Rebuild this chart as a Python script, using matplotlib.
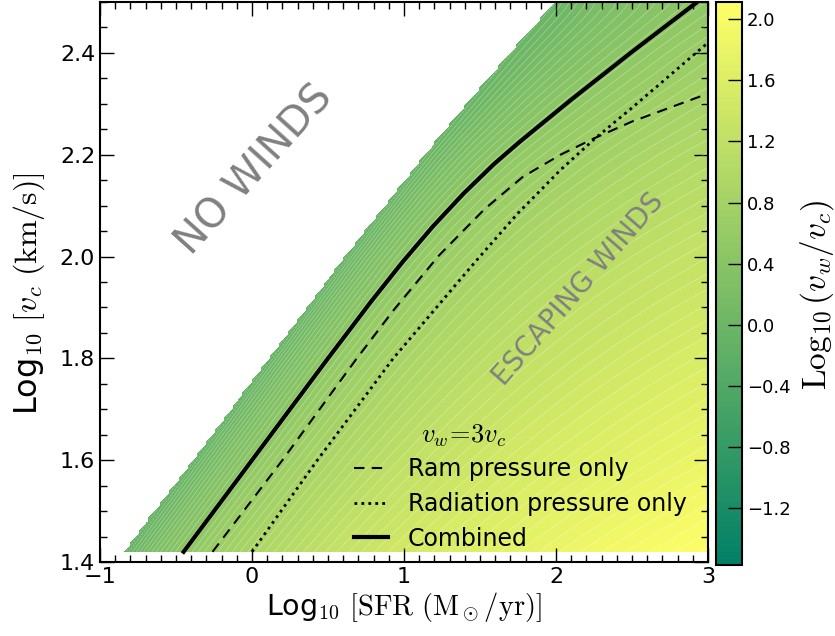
import numpy as np
import matplotlib
matplotlib.use('Agg')
import matplotlib.pyplot as plt
from matplotlib.ticker import MultipleLocator

plt.rcParams['mathtext.fontset'] = 'cm'
plt.rcParams['font.family'] = 'DejaVu Sans'

# no-wind boundary (log10 SFR at each log10 vc) and log10(vw/vc) along it / at SFR=10^3
y_nodes = [1.42, 1.6, 1.8, 2.0, 2.2, 2.4, 2.5]
x_edge = [-0.85, -0.39, 0.11, 0.61, 1.13, 1.69, 1.99]
z_edge = [-0.12, -0.10, -0.10, -0.10, -0.08, -0.06, -0.05]
z_right = [2.08, 1.82, 1.55, 1.28, 1.00, 0.68, 0.50]

# v_w = 3 v_c curves
comb_x = [-0.45, 0.0, 0.50, 0.79, 0.99, 1.19, 1.39, 1.59, 1.76, 2.10, 2.50, 2.93]
comb_y = [1.42, 1.6, 1.8, 1.914, 1.989, 2.059, 2.123, 2.181, 2.225, 2.308, 2.402, 2.50]
ram_x = [-0.26, 0.20, 0.69, 0.93, 1.23, 1.53, 1.78, 2.03, 2.25, 2.50, 3.0]
ram_y = [1.42, 1.6, 1.8, 1.894, 2.002, 2.093, 2.156, 2.200, 2.232, 2.265, 2.32]
rad_x = [0.0, 0.43, 0.93, 1.47, 1.75, 2.03, 2.25, 2.50, 3.0]
rad_y = [1.42, 1.6, 1.8, 1.99, 2.085, 2.170, 2.230, 2.292, 2.42]

zmin, zmax = -1.57, 2.11
z3 = np.log10(3)

# ---- log10(vw/vc) over the (SFR, vc) plane -----------------------------------
sfr = np.linspace(-1.0, 3.0, 201)
vc = np.linspace(1.42, 2.5, 181)

# each row: z = a + b*log10(d + e), d = distance from the no-wind edge,
# pinned to z_edge at the edge, log10(3) on the combined curve, z_right at SFR=10^3
xb = np.interp(vc, y_nodes, x_edge)
ze = np.interp(vc, y_nodes, z_edge)
zr = np.interp(vc, y_nodes, z_right)
dc = np.interp(vc, comb_y, comb_x) - xb
D = 3.0 - xb
target = (zr - z3) / (z3 - ze)
lo, hi = np.full_like(vc, -5.0), np.full_like(vc, 3.0)
for _ in range(80):
    mid = 0.5 * (lo + hi)
    e = 10 ** mid
    f = np.log10((D + e) / (dc + e)) / np.log10((dc + e) / e)
    lo = np.where(f < target, mid, lo)
    hi = np.where(f < target, hi, mid)
e = 10 ** (0.5 * (lo + hi))
b = (z3 - ze) / np.log10((dc + e) / e)
a = ze - b * np.log10(e)

X, Y = np.meshgrid(sfr, vc)
d = X - xb[:, None]
with np.errstate(invalid='ignore'):
    Z = a[:, None] + b[:, None] * np.log10(d + e[:, None])
Z = np.ma.masked_where(d <= 0, np.clip(Z, zmin, zmax))

fig = plt.figure(figsize=(8.35, 6.36), dpi=100)
ax = fig.add_axes([0.1198, 0.1164, 0.728, 0.8805])
cax = fig.add_axes([0.8575, 0.1116, 0.0311, 0.885])

levels = np.linspace(zmin, zmax, 90)
cf = ax.contourf(X, Y, Z, levels=levels, cmap='summer')
ax.contour(X, Y, Z, levels=levels, colors='white', linewidths=0.5, alpha=0.35)

ax.plot(ram_x, ram_y, color='k', lw=1.5, dashes=(5, 3.5), label='Ram pressure only')
ax.plot(rad_x, rad_y, color='k', lw=2.0, dashes=(1, 1.5), label='Radiation pressure only')
ax.plot(comb_x, comb_y, color='k', lw=3.0, label='Combined')

ax.set_xlim(-1, 3)
ax.set_ylim(1.4, 2.5)
ax.xaxis.set_major_locator(MultipleLocator(1))
ax.xaxis.set_minor_locator(MultipleLocator(0.1))
ax.yaxis.set_major_locator(MultipleLocator(0.2))
ax.yaxis.set_minor_locator(MultipleLocator(0.05))
ax.tick_params(which='both', direction='in', top=True, right=True, width=1, labelsize=16)
ax.tick_params(which='major', length=10)
ax.tick_params(which='minor', length=5)
for s in ax.spines.values():
    s.set_linewidth(1.5)

ax.set_xlabel(r'Log$_{10}$ $[\rm SFR\ (M_\odot/yr)]$', fontsize=20.5, labelpad=2)
ax.set_ylabel(r'Log$_{10}$ $[v_c\ \rm (km/s)]$', fontsize=23)
ax.yaxis.set_label_coords(-0.088, 0.48)

ax.text(0.02, 2.17, 'NO WINDS', color='gray', fontsize=29, rotation=48,
        ha='center', va='center')
ax.text(2.15, 1.935, 'ESCAPING WINDS', color='gray', fontsize=20, rotation=49,
        ha='center', va='center')

leg = ax.legend(loc='lower left', bbox_to_anchor=(0.396, -0.003), frameon=False,
                fontsize=17, handlelength=1.45, handletextpad=0.85, labelspacing=0.46,
                borderpad=0.05)
ax.text(0.528, 0.225, r'$v_w\!=\!3v_c$', transform=ax.transAxes, fontsize=19,
        ha='left', va='center')

cb = fig.colorbar(cf, cax=cax, ticks=np.arange(-1.2, 2.01, 0.4))
cb.ax.tick_params(direction='in', length=10, width=1, labelsize=13)
cb.outline.set_linewidth(1.5)
cb.set_label(r'$\mathrm{Log}_{10}\,(v_w/v_c)$', fontsize=24)
cb.ax.yaxis.set_label_coords(3.15, 0.48)

fig.savefig('out.png', dpi=100)
